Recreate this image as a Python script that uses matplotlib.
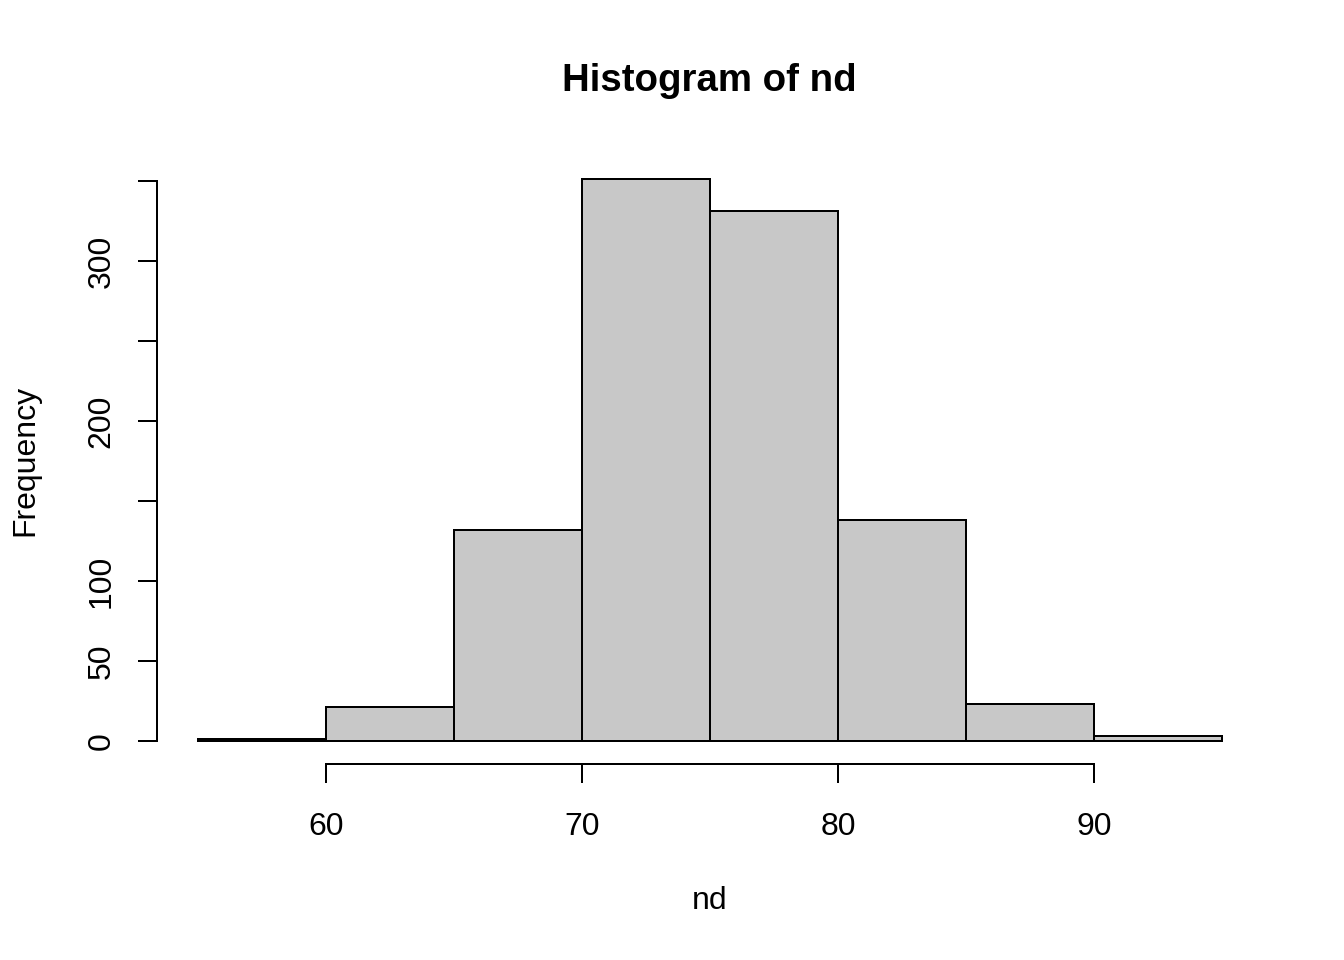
import numpy as np
import matplotlib.pyplot as plt

# histogram of nd, R-style base graphics look
bin_edges = [55, 60, 65, 70, 75, 80, 85, 90, 95]
counts = [1, 21, 132, 351, 331, 138, 23, 3]
x_ticks = [60, 70, 80, 90]
y_ticks = [0, 50, 100, 150, 200, 250, 300, 350]
y_labels = ['0', '50', '100', '', '200', '', '300', '']

plt.rcParams['font.family'] = ['Liberation Sans', 'DejaVu Sans']

fig = plt.figure(figsize=(7, 5), dpi=192)
ax = fig.add_axes([157 / 1344, 1 - 763.5 / 960, (1263 - 157) / 1344, (763.5 - 157) / 960])

edges = np.array(bin_edges)
ax.bar(edges[:-1], counts, width=np.diff(edges), align='edge',
       color='#C8C8C8', edgecolor='black', linewidth=0.75)

# R pads the data range by 4% on each side
xr = edges[-1] - edges[0]
ax.set_xlim(edges[0] - 0.04 * xr, edges[-1] + 0.04 * xr)
ymax = max(counts)
ax.set_ylim(-0.04 * ymax, ymax * 1.04)

for s in ['top', 'right']:
    ax.spines[s].set_visible(False)
ax.spines['left'].set_bounds(y_ticks[0], y_ticks[-1])
ax.spines['bottom'].set_bounds(x_ticks[0], x_ticks[-1])
ax.spines['left'].set_linewidth(0.75)
ax.spines['bottom'].set_linewidth(0.75)

ax.set_xticks(x_ticks)
ax.set_yticks(y_ticks)
ax.set_yticklabels(y_labels, rotation=90, va='center')
ax.tick_params(axis='both', length=7.1, width=0.75, labelsize=12)
ax.tick_params(axis='x', pad=11)
ax.tick_params(axis='y', pad=8)

fig.text(0.528, 1 - 81 / 960, 'Histogram of nd', ha='center', va='center',
         fontsize=14.4, fontweight='bold')
fig.text(0.528, 1 - 901 / 960, 'nd', ha='center', va='center', fontsize=12)
fig.text(25 / 1344, 1 - 460 / 960, 'Frequency', ha='center', va='center',
         rotation=90, fontsize=12)

fig.savefig('out.png', dpi=192)
